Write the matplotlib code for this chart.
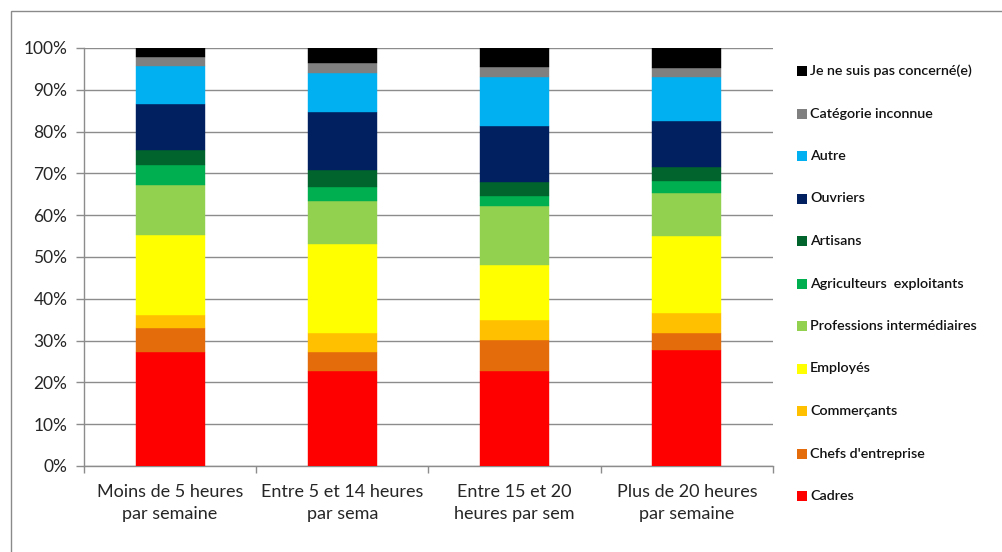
import matplotlib
matplotlib.use("Agg")
import matplotlib.pyplot as plt
from matplotlib.patches import Rectangle
from matplotlib.ticker import FixedLocator, PercentFormatter

# Weekly time groups (x categories)
groups = [
    "Moins de 5 heures\npar semaine",
    "Entre 5 et 14 heures\npar sema",
    "Entre 15 et 20\nheures par sem",
    "Plus de 20 heures\npar semaine",
]

# Share (%) of each socio-professional category, bottom to top
cadres = [27.3, 22.8, 22.8, 27.8]
chefs_entreprise = [5.7, 4.5, 7.4, 4.0]
commercants = [3.1, 4.4, 4.8, 4.7]
employes = [19.2, 21.5, 13.1, 18.5]
prof_intermediaires = [12.0, 10.2, 14.1, 10.2]
agriculteurs = [4.8, 3.3, 2.5, 3.0]
artisans = [3.4, 4.0, 3.2, 3.3]
ouvriers = [11.2, 14.0, 13.5, 11.1]
autre = [9.1, 9.4, 11.7, 10.4]
categorie_inconnue = [2.1, 2.4, 2.3, 2.3]
non_concerne = [2.1, 3.5, 4.6, 4.7]

series = [
    ("Cadres", cadres, "#FF0000"),
    ("Chefs d'entreprise", chefs_entreprise, "#E46C0A"),
    ("Commerçants", commercants, "#FFC000"),
    ("Employés", employes, "#FFFF00"),
    ("Professions intermédiaires", prof_intermediaires, "#92D050"),
    ("Agriculteurs  exploitants", agriculteurs, "#00B050"),
    ("Artisans", artisans, "#00642C"),
    ("Ouvriers", ouvriers, "#002060"),
    ("Autre", autre, "#00B0F0"),
    ("Catégorie inconnue", categorie_inconnue, "#808080"),
    ("Je ne suis pas concerné(e)", non_concerne, "#000000"),
]

W, H = 1003, 552
fig = plt.figure(figsize=(W / 100, H / 100), dpi=100)
fig.patch.set_facecolor("white")
plt.rcParams["font.family"] = ["Lato", "DejaVu Sans"]

# Outer chart frame
fig.patches.append(Rectangle((11 / W, -0.05), 1.2, 1 - 11 / H + 0.05,
                             transform=fig.transFigure, fill=False,
                             edgecolor="#8a8a8a", linewidth=1.0))

ax = fig.add_axes([84 / W, 1 - 466 / H, (773 - 84) / W, (466 - 48) / H])

grid_col = "#8c8c8c"
x = list(range(len(groups)))
bottom = [0.0] * len(groups)
for name, vals, col in series:
    ax.bar(x, vals, width=0.4, bottom=bottom, color=col,
           edgecolor=col, linewidth=0.3, zorder=3)
    bottom = [b + v for b, v in zip(bottom, vals)]

ax.set_xlim(-0.5, len(groups) - 0.5)
ax.set_ylim(0, 100)
ax.yaxis.set_major_locator(FixedLocator(range(0, 101, 10)))
ax.yaxis.set_major_formatter(PercentFormatter(decimals=0))
ax.yaxis.grid(True, color=grid_col, linewidth=1.0, zorder=0)

# Category boundaries carry the tick marks, centres carry the labels
ax.set_xticks([i - 0.5 for i in range(len(groups) + 1)])
ax.set_xticklabels([])
ax.set_xticks(x, minor=True)
ax.set_xticklabels(groups, minor=True, fontsize=13, color="#262626",
                   linespacing=1.45)
ax.tick_params(axis="x", which="minor", length=0, pad=13)
ax.tick_params(axis="x", which="major", length=5, color=grid_col, width=1)
ax.tick_params(axis="y", length=6, color=grid_col, width=1, labelsize=12.5,
               labelcolor="#262626", pad=6)

for side in ("top", "right"):
    ax.spines[side].set_visible(False)
for side in ("left", "bottom"):
    ax.spines[side].set_color(grid_col)
    ax.spines[side].set_linewidth(1.0)

# Legend, top entry first
legend_y0, legend_step = 71, 42.5
for k, (name, vals, col) in enumerate(reversed(series)):
    yc = legend_y0 + k * legend_step
    fig.patches.append(Rectangle((797 / W, 1 - (yc + 5) / H), 10 / W, 10 / H,
                                 transform=fig.transFigure, facecolor=col,
                                 edgecolor="none"))
    fig.text(810 / W, 1 - yc / H, name, fontsize=10.3, color="#111111",
             va="center", ha="left", fontweight="semibold")

fig.savefig("out.png", dpi=100, facecolor="white")
